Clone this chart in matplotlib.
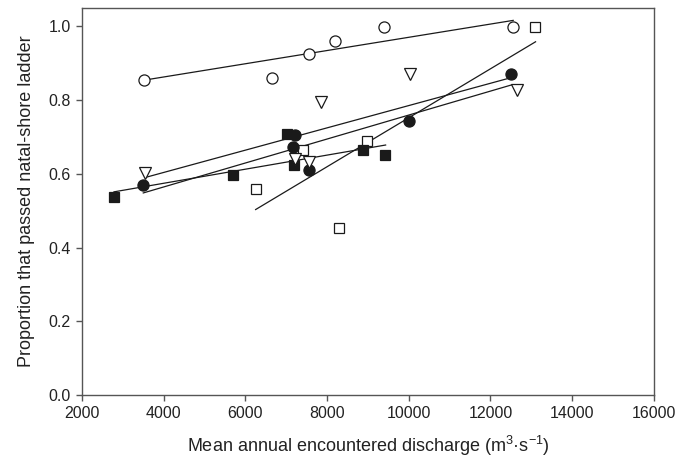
import numpy as np
import matplotlib
matplotlib.use('Agg')
import matplotlib.pyplot as plt

plt.rcParams['font.family'] = ['Liberation Sans', 'DejaVu Sans']
plt.rcParams['mathtext.default'] = 'regular'

# open circles
oc_x = [3525, 6643, 7548, 8192, 9399, 12540]
oc_y = [0.855, 0.861, 0.926, 0.959, 0.998, 0.998]
oc_fit_x = [3525, 12556]
oc_fit_y = [0.854, 1.016]

# open squares
os_x = [13086, 8967, 7417, 6251, 8298]
os_y = [0.998, 0.689, 0.664, 0.560, 0.452]
os_fit_x = [6251, 13104]
os_fit_y = [0.503, 0.958]

# filled squares
fs_x = [2783, 5688, 7010, 7196, 8877, 9423]
fs_y = [0.536, 0.596, 0.707, 0.624, 0.664, 0.650]
fs_fit_x = [2783, 9433]
fs_fit_y = [0.551, 0.678]

# filled circles
fc_x = [3493, 7221, 7156, 7556, 9994, 12514]
fc_y = [0.569, 0.704, 0.673, 0.609, 0.743, 0.870]
fc_fit_x = [3500, 12516]
fc_fit_y = [0.548, 0.841]

# open triangles (down)
tr_x = [3550, 7849, 7213, 7563, 10027, 12654]
tr_y = [0.602, 0.795, 0.640, 0.631, 0.871, 0.828]
tr_fit_x = [3550, 12514]
tr_fit_y = [0.590, 0.861]

fig = plt.figure(figsize=(6.89, 4.62), dpi=100)
ax = fig.add_axes([0.119, 0.145, 0.83, 0.838])

lc = '#1a1a1a'
for fx, fy in [(oc_fit_x, oc_fit_y), (os_fit_x, os_fit_y), (fs_fit_x, fs_fit_y),
               (fc_fit_x, fc_fit_y), (tr_fit_x, tr_fit_y)]:
    ax.plot(fx, fy, color=lc, lw=0.9, zorder=2)

ax.plot(oc_x, oc_y, 'o', ms=8, mfc='white', mec=lc, mew=0.9, zorder=3)
ax.plot(os_x, os_y, 's', ms=6.5, mfc='white', mec=lc, mew=0.9, zorder=3)
ax.plot(fs_x, fs_y, 's', ms=6.5, mfc=lc, mec=lc, mew=0.9, zorder=3)
ax.plot(fc_x, fc_y, 'o', ms=8, mfc=lc, mec=lc, mew=0.9, zorder=3)
ax.plot(tr_x, tr_y, 'v', ms=8, mfc='white', mec=lc, mew=0.9, zorder=3)

ax.set_xlim(2000, 16000)
ax.set_ylim(0, 1.05)
ax.set_xticks(np.arange(2000, 16001, 2000))
ax.set_yticks(np.arange(0, 1.01, 0.2))
ax.set_yticklabels([f'{v:.1f}' for v in np.arange(0, 1.01, 0.2)])

for s in ax.spines.values():
    s.set_color('#555555')
    s.set_linewidth(1.0)
ax.tick_params(direction='out', length=4, width=1, color='#555555',
               labelsize=11.5, labelcolor='#222222', pad=4)

ax.set_xlabel('Mean annual encountered discharge (m$^{3}$·s$^{-1}$)',
              fontsize=13, color='#222222', labelpad=9)
ax.set_ylabel('Proportion that passed natal-shore ladder',
              fontsize=13, color='#222222', labelpad=10)

fig.savefig('out.png', dpi=100)
